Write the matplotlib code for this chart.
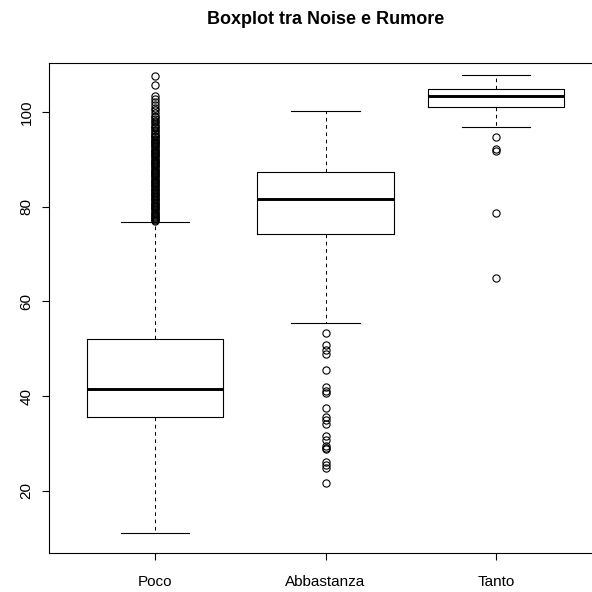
import matplotlib
matplotlib.use("Agg")
import matplotlib.pyplot as plt

plt.rcParams["font.family"] = ["Liberation Sans", "DejaVu Sans"]

groups = ["Poco", "Abbastanza", "Tanto"]

# five-number summaries per group: lower whisker, Q1, median, Q3, upper whisker
whis_lo = [11.1, 55.5, 96.7]
q1 = [35.7, 74.2, 101.0]
medians = [41.5, 81.7, 103.4]
q3 = [52.0, 87.4, 104.9]
whis_hi = [76.8, 100.2, 107.8]

out_poco = [
    107.5, 105.6, 103.4, 102.7, 102.0, 101.4, 100.9, 100.3, 99.8, 99.2,
    98.9, 98.5, 98.1, 97.8, 97.4, 97.1, 96.8, 96.5, 96.2, 95.9, 95.6,
    95.3, 95.0, 94.8, 94.6, 94.3, 94.1, 93.9, 93.6, 93.4, 93.2, 92.9,
    92.7, 92.5, 92.2, 92.0, 91.8, 91.5, 91.3, 91.1, 90.8, 90.6, 90.4,
    90.1, 89.9, 89.7, 89.4, 89.2, 89.0, 88.7, 88.5, 88.3, 88.0, 87.8,
    87.6, 87.3, 87.1, 86.9, 86.6, 86.4, 86.2, 85.9, 85.7, 85.5, 85.2,
    85.0, 84.8, 84.5, 84.3, 84.1, 83.8, 83.6, 83.4, 83.1, 82.9, 82.7,
    82.4, 82.2, 82.0, 81.7, 81.5, 81.3, 81.0, 80.8, 80.6, 80.3, 80.1,
    79.9, 79.6, 79.4, 79.2, 78.9, 78.7, 78.5, 78.2, 78.0, 77.8, 77.5,
    77.3, 77.1, 76.9,
]
out_abbastanza = [
    53.3, 50.8, 49.7, 48.8, 45.5, 41.9, 41.0, 40.6, 37.6, 35.7, 35.0,
    34.1, 31.5, 30.8, 29.4, 29.0, 28.8, 26.2, 25.5, 24.8, 21.6,
]
out_tanto = [94.7, 92.1, 91.8, 78.6, 65.0]
outliers = [out_poco, out_abbastanza, out_tanto]

stats = []
for i, name in enumerate(groups):
    stats.append({
        "label": name,
        "whislo": whis_lo[i], "q1": q1[i], "med": medians[i],
        "q3": q3[i], "whishi": whis_hi[i], "fliers": outliers[i],
    })

fig = plt.figure(figsize=(5.92, 5.92), dpi=100)
# plot region runs a little past the right edge of the canvas
ax = fig.add_axes([49 / 592, 1 - 553 / 592, 553 / 592, 490 / 592])

ax.bxp(
    stats, positions=[1, 2, 3], widths=0.8, capwidths=0.4,
    boxprops=dict(color="black", linewidth=0.8),
    medianprops=dict(color="black", linewidth=2.1, solid_capstyle="butt"),
    whiskerprops=dict(color="black", linewidth=0.75, linestyle=(0, (3.5, 3.5))),
    capprops=dict(color="black", linewidth=0.8),
    flierprops=dict(marker="o", markerfacecolor="none", markeredgecolor="black",
                    markersize=5.2, markeredgewidth=0.8),
)

ax.set_xlim(0.38, 3.62)
ax.set_ylim(6.9, 110.3)
ax.set_yticks([20, 40, 60, 80, 100])
ax.set_xticks([1, 2, 3])
ax.set_xticklabels(groups)
for lab in ax.get_yticklabels():
    lab.set_rotation(90)
    lab.set_va("center")
ax.tick_params(axis="both", labelsize=11, length=5, width=0.8)
ax.tick_params(axis="y", pad=6)
ax.tick_params(axis="x", pad=11)
for s in ax.spines.values():
    s.set_linewidth(0.8)

ax.set_title("Boxplot tra Noise e Rumore", fontsize=13, fontweight="bold", pad=28)

fig.savefig("out.png", dpi=100)
